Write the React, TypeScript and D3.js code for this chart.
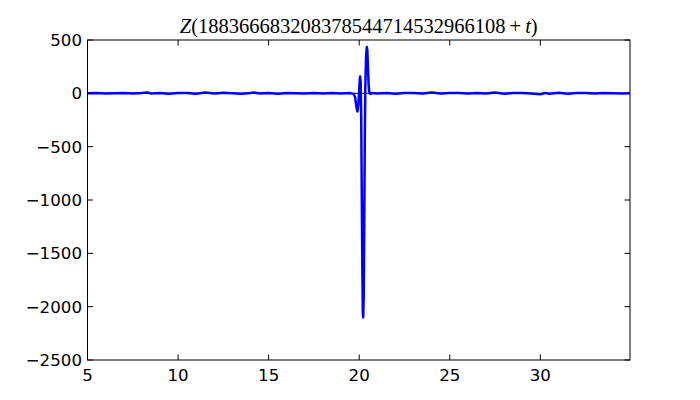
import React from "react";
import * as d3 from "d3";

const tBefore = [5, 5.5, 6, 6.5, 7, 7.5, 8, 8.3, 8.5, 9, 9.5, 10, 10.5, 11, 11.5, 12, 12.5, 13, 13.5, 14, 14.2, 14.5, 15, 15.5, 16, 16.5, 17, 17.5, 18, 18.5, 19, 19.5];
const zBefore = [0, 2, -2, 1, 3, -2, 3, 9, -1, 2, -3, 2, 4, -3, 8, -2, 5, 1, -4, 3, 7, -2, 2, -3, 4, 1, -2, 3, -1, 3, -2, 2];

const tSpike = [19.7, 19.78, 19.84, 19.9, 19.95, 19.99, 20.03, 20.05, 20.08, 20.11, 20.14, 20.17, 20.2, 20.22, 20.25, 20.28, 20.31, 20.34, 20.38, 20.42, 20.45, 20.48, 20.52, 20.56, 20.62, 20.7];
const zSpike = [-5, -40, -120, -170, -110, 0, 130, 158, 110, -200, -900, -1600, -2050, -2100, -1900, -1200, -400, 80, 350, 435, 400, 250, 80, 10, -6, 4];

const tAfter = [21, 21.5, 22, 22.5, 23, 23.5, 24, 24.5, 25, 25.5, 26, 26.5, 27, 27.5, 28, 28.5, 29, 29.5, 30, 30.3, 30.5, 31, 31.5, 32, 32.5, 33, 33.5, 34, 34.5, 34.95];
const zAfter = [-2, 2, -3, 2, 3, -1, 7, -2, 3, 4, -2, 2, -1, 8, -3, 3, 2, -2, -8, 4, -3, 5, -4, 4, 3, -2, 2, 1, -1, 0];

const xTicks = [5, 10, 15, 20, 25, 30];
const yTicks = [500, 0, -500, -1000, -1500, -2000, -2500];
const titleDigits = "188366683208378544714532966108";

const W = 700, H = 400;
const L = 87.5, R = 630, T = 40, B = 360;

export default function App() {
  const x = d3.scaleLinear().domain([5, 34.95]).range([L, R]);
  const y = d3.scaleLinear().domain([-2500, 500]).range([B, T]);
  const ts = [...tBefore, ...tSpike, ...tAfter];
  const zs = [...zBefore, ...zSpike, ...zAfter];
  const pts: [number, number][] = ts.map((t, i) => [t, zs[i]]);
  const line = d3.line<[number, number]>().x(d => x(d[0])).y(d => y(d[1]));
  const tick = 5.5;
  const fmt = (v: number) => (v < 0 ? "\u2212" + Math.abs(v) : String(v));
  return (
    <svg width={W} height={H} style={{ position: "absolute", left: 0, top: 0, background: "#fff" }} fontFamily="DejaVu Sans">
      <rect x={0} y={0} width={W} height={H} fill="#fff" />
      <defs>
        <clipPath id="clip"><rect x={L} y={T} width={R - L} height={B - T} /></clipPath>
      </defs>
      <line x1={L} x2={R} y1={y(0)} y2={y(0)} stroke="#000" strokeWidth={1} />
      <path d={line(pts) || ""} fill="none" stroke="#0000ff" strokeWidth={2.5} strokeLinejoin="round" clipPath="url(#clip)" />
      <rect x={L} y={T} width={R - L} height={B - T} fill="none" stroke="#000" strokeWidth={1} />
      {xTicks.map(v => (
        <g key={"x" + v}>
          <line x1={x(v)} x2={x(v)} y1={B} y2={B - tick} stroke="#000" />
          <line x1={x(v)} x2={x(v)} y1={T} y2={T + tick} stroke="#000" />
          <text x={x(v)} y={381} fontSize={16.67} textAnchor="middle">{fmt(v)}</text>
        </g>
      ))}
      {yTicks.map(v => (
        <g key={"y" + v}>
          <line x1={L} x2={L + tick} y1={y(v)} y2={y(v)} stroke="#000" />
          <line x1={R} x2={R - tick} y1={y(v)} y2={y(v)} stroke="#000" />
          <text x={82} y={y(v)} dy="0.35em" fontSize={16.67} textAnchor="end">{fmt(v)}</text>
        </g>
      ))}
      <text x={(L + R) / 2} y={33} fontSize={20.5} textAnchor="middle" fontFamily="Liberation Serif">
        <tspan fontStyle="italic">Z</tspan>
        <tspan>({titleDigits}</tspan>
        <tspan dx={4}>+</tspan>
        <tspan dx={4} fontStyle="italic">t</tspan>
        <tspan>)</tspan>
      </text>
    </svg>
  );
}
